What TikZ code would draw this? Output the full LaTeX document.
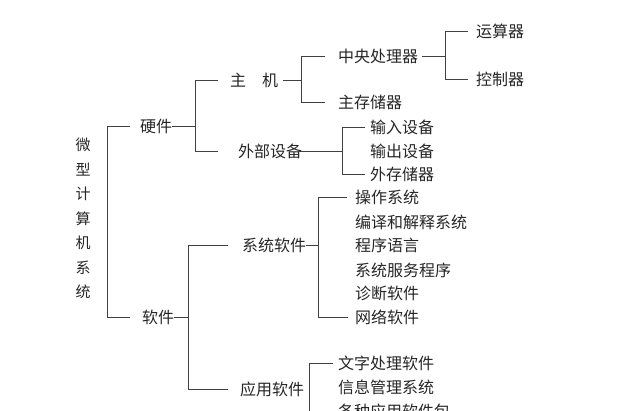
\documentclass[tikz,border=0pt]{standalone}
\usepackage{fontspec}
\newfontfamily\cjk{Noto Sans CJK SC}
\begin{document}
\begin{tikzpicture}[x=1pt,y=-1pt,
        item/.style={anchor=west, inner xsep=0pt, inner ysep=1pt, text=black!85,
                     font=\cjk\fontsize{16}{18}\selectfont},
        tree line/.style={line width=.9pt, draw=black!75}]
        \useasboundingbox (0,0) rectangle (641,411);
        \node[item, anchor=center, align=center, font=\cjk\fontsize{15}{24.5}\selectfont]
              (root) at (83,218.5) {微\\型\\计\\算\\机\\系\\统};

        % first and second level
        \node[item] (hw)   at (140,126) {硬件};
        \node[item] (sw)   at (142,317) {软件};
        \node[item] (host) at (230, 80) {主\hspace{1em}机};
        \node[item] (ext)  at (238,151) {外部设备};
        \node[item] (sys)  at (242,245) {系统软件};
        \node[item] (app)  at (240,389) {应用软件};

        % leaves
        \node[item] (cpu)   at (338, 56) {中央处理器};
        \node[item] (mem)   at (338,102) {主存储器};
        \node[item] (alu)   at (476, 31) {运算器};
        \node[item] (ctl)   at (476, 79) {控制器};
        \node[item] (inp)   at (370,127) {输入设备};
        \node[item] (outp)  at (370,151) {输出设备};
        \node[item] (store) at (370,174) {外存储器};
        \node[item] (os)    at (355,197) {操作系统};
        \node[item] (cc)    at (355,222) {编译和解释系统};
        \node[item] (pl)    at (355,245) {程序语言};
        \node[item] (svc)   at (355,270) {系统服务程序};
        \node[item] (diag)  at (355,293) {诊断软件};
        \node[item] (net)   at (355,317) {网络软件};
        \node[item] (wp)    at (338,363) {文字处理软件};
        \node[item] (mis)   at (338,387) {信息管理系统};
        \node[item] (pkg)   at (338,411) {各种应用软件包};

        % spines of the brackets
        \coordinate (s0) at (107,0);
        \coordinate (s1) at (195,0);
        \coordinate (s2) at (301,0);
        \coordinate (s3) at (445,0);
        \coordinate (s4) at (342,0);
        \coordinate (s5) at (188,0);
        \coordinate (s6) at (318,0);
        \coordinate (s7) at (309,425);

        \draw[tree line, shorten <=10pt, shorten >=12pt] (hw.west)   -- (hw.west -| s0)   -- (sw.west -| s0)    -- (sw.west);
        \draw[tree line, shorten <=12pt, shorten >=20pt] (host.west) -- (host.west -| s1) -- (ext.west -| s1)   -- (ext.west);
        \draw[tree line, shorten <=13pt, shorten >=13pt] (cpu.west)  -- (cpu.west -| s2)  -- (mem.west -| s2)   -- (mem.west);
        \draw[tree line, shorten <=8pt,  shorten >=8pt ] (alu.west)  -- (alu.west -| s3)  -- (ctl.west -| s3)   -- (ctl.west);
        \draw[tree line, shorten <=5pt,  shorten >=5pt ] (inp.west)  -- (inp.west -| s4)  -- (store.west -| s4) -- (store.west);
        \draw[tree line, shorten <=14pt, shorten >=12pt] (sys.west)  -- (sys.west -| s5)  -- (app.west -| s5)   -- (app.west);
        \draw[tree line, shorten <=8pt,  shorten >=7pt ] (os.west)   -- (os.west -| s6)   -- (net.west -| s6)   -- (net.west);
        \draw[tree line, shorten <=5pt] (wp.west) -- (wp.west -| s7) -- (s7);

        % from parent to bracket
        \draw[tree line] (hw.east) -- (hw.east -| s1);
        \draw[tree line, shorten <=5pt] (host.east) -- (host.east -| s2);
        \draw[tree line, shorten <=4pt] (cpu.east) -- (cpu.east -| s3);
        \draw[tree line, shorten <=-4pt] (ext.east) -- (ext.east -| s4);
        \draw[tree line] (sw.east) -- (sw.east -| s5);
        \draw[tree line] (sys.east) -- (sys.east -| s6);
      \end{tikzpicture}
\end{document}
